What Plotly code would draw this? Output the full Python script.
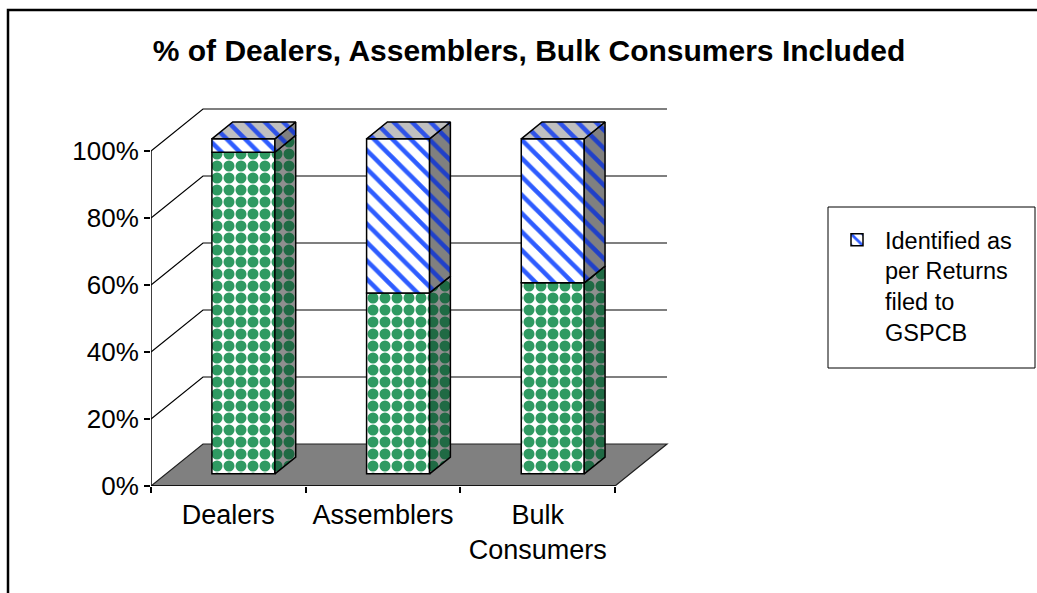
import plotly.graph_objects as go

# ---------------- data ----------------
categories = ["Dealers", "Assemblers", "Bulk<br>Consumers"]
included_pct = [96, 54, 57]          # green (lower) segment
identified_pct = [4, 46, 43]         # blue striped (upper) segment
y_tick_vals = [0, 20, 40, 60, 80, 100]
y_tick_text = ["0%", "20%", "40%", "60%", "80%", "100%"]
legend_name = "Identified as<br>per Returns<br>filed to<br>GSPCB"
title_text = "% of Dealers, Assemblers, Bulk Consumers Included"

# ---------------- geometry (layout) ----------------
W, H = 1037, 593
L_PX, R_PX = 151, 680        # plot area in pixels
T_PX, B_PX = 100, 486
PX_PER_CAT = 154.67
PX_PER_PCT = 3.35
XR = (R_PX - L_PX) / PX_PER_CAT
YR = (B_PX - T_PX) / PX_PER_PCT
DX = 52 / PX_PER_CAT         # depth offset in x units
DY = 42 / PX_PER_PCT         # depth offset in y units
F0, F1 = 0.29, 0.69          # bar depth (front / back fraction)
BW = 63 / PX_PER_CAT
N = len(categories)


def pxx(p):
    return (p - L_PX) / (R_PX - L_PX)


def pxy(p):
    return (B_PX - p) / (B_PX - T_PX)


FONT = "Liberation Sans, Arial, sans-serif"
GREEN_FRONT = dict(shape=".", bgcolor="#ffffff", fgcolor="#2f9a62", fgopacity=1, size=12, solidity=0.66)
GREEN_SIDE = dict(shape=".", bgcolor="#8f8f8f", fgcolor="#1f6a44", fgopacity=1, size=12, solidity=0.66)
BLUE_FRONT = dict(shape="\\", bgcolor="#ffffff", fgcolor="#2e5cff", fgopacity=1, size=13, solidity=0.35)
BLUE_SIDE = dict(shape="\\", bgcolor="#808080", fgcolor="#2040c8", fgopacity=1, size=13, solidity=0.35)
BLUE_TOP = dict(shape="\\", bgcolor="#c0c0c0", fgcolor="#2e52e8", fgopacity=1, size=13, solidity=0.35)

fig = go.Figure()

xs = [i + 0.5 + F0 * DX for i in range(N)]
base0 = F0 * DY
ddx = (F1 - F0) * DX
ddy = (F1 - F0) * DY

# front faces (bars)
fig.add_trace(go.Bar(
    x=xs, y=included_pct, base=[base0] * N, width=BW,
    marker=dict(color="#2f9a62", pattern=GREEN_FRONT, line=dict(color="black", width=1.5)),
    name="Included", showlegend=False, hoverinfo="skip"))
fig.add_trace(go.Bar(
    x=xs, y=identified_pct, base=[base0 + g for g in included_pct], width=BW,
    marker=dict(color="#ffffff", pattern=BLUE_FRONT, line=dict(color="black", width=1.5)),
    name=legend_name, showlegend=True, hoverinfo="skip"))


def poly(xp, yp, pattern, bg):
    fig.add_trace(go.Scatter(
        x=xp + [xp[0]], y=yp + [yp[0]], mode="lines", fill="toself",
        fillcolor=bg, fillpattern=pattern,
        line=dict(color="black", width=1.5), showlegend=False, hoverinfo="skip"))


for i in range(N):
    xr = xs[i] + BW / 2
    xl = xs[i] - BW / 2
    g = included_pct[i]
    b = identified_pct[i]
    # side of green segment
    y0, y1 = base0, base0 + g
    poly([xr, xr + ddx, xr + ddx, xr], [y0, y0 + ddy, y1 + ddy, y1], GREEN_SIDE, "#8f8f8f")
    # side of blue segment
    y0, y1 = base0 + g, base0 + g + b
    poly([xr, xr + ddx, xr + ddx, xr], [y0, y0 + ddy, y1 + ddy, y1], BLUE_SIDE, "#808080")
    # top face
    t = base0 + g + b
    poly([xl, xr, xr + ddx, xl + ddx], [t, t, t + ddy, t + ddy], BLUE_TOP, "#c0c0c0")

# ---------------- walls / floor (axis decorations) ----------------
shapes = []
for v in y_tick_vals[1:]:
    shapes.append(dict(type="path", xref="x", yref="y", layer="below",
                       path=f"M0,{v} L{DX},{v + DY} L{N + DX},{v + DY}",
                       line=dict(color="black", width=1.2)))
shapes.append(dict(type="path", xref="x", yref="y", layer="below",
                   path=f"M0,0 L{N},0 L{N + DX},{DY} L{DX},{DY} Z",
                   fillcolor="#808080", line=dict(color="#202020", width=1.2)))
# front axis lines
shapes.append(dict(type="line", xref="x", yref="y", layer="below",
                   x0=0, y0=0, x1=0, y1=100, line=dict(color="black", width=1.5)))
shapes.append(dict(type="line", xref="x", yref="y", layer="below",
                   x0=0, y0=0, x1=N, y1=0, line=dict(color="black", width=1.5)))
# chart frame (top and left edges)
shapes.append(dict(type="path", xref="paper", yref="paper", layer="above",
                   path=f"M{pxx(8)},{pxy(600)} L{pxx(8)},{pxy(10)} L{pxx(1045)},{pxy(10)}",
                   line=dict(color="black", width=2.5)))
# legend box
shapes.append(dict(type="rect", xref="paper", yref="paper", layer="above",
                   x0=pxx(828), x1=pxx(1035), y0=pxy(368), y1=pxy(207),
                   line=dict(color="black", width=1)))

fig.update_layout(
    width=W, height=H,
    margin=dict(l=L_PX, r=W - R_PX, t=T_PX, b=H - B_PX, autoexpand=False),
    paper_bgcolor="white", plot_bgcolor="rgba(0,0,0,0)",
    barmode="overlay",
    font=dict(family=FONT, color="black"),
    title=dict(text=f"<b>{title_text}</b>", x=529 / W, xanchor="center",
               y=1 - 50 / H, yanchor="middle", yref="container",
               font=dict(size=30, family=FONT, color="black")),
    shapes=shapes,
    legend=dict(x=pxx(829), y=pxy(218), xanchor="left", yanchor="top",
                borderwidth=0, bgcolor="rgba(0,0,0,0)",
                font=dict(size=23.5, family=FONT, color="black"),
                itemwidth=46, valign="top", itemclick=False),
    xaxis=dict(range=[0, XR], tickmode="array", tickvals=[i + 0.5 for i in range(N)],
               ticktext=categories, ticks="", showgrid=False, zeroline=False, showline=False,
               tickfont=dict(size=27, family=FONT, color="black"), ticklabelstandoff=10,
               minor=dict(tickmode="array", tickvals=list(range(N + 1)), ticks="outside",
                          ticklen=6, tickcolor="black", tickwidth=1.5, showgrid=False),
               fixedrange=True),
    yaxis=dict(range=[0, YR], tickmode="array", tickvals=y_tick_vals, ticktext=y_tick_text,
               ticks="outside", ticklen=6, tickcolor="black", tickwidth=1.5,
               showgrid=False, zeroline=False, showline=False,
               tickfont=dict(size=26, family=FONT, color="black"), fixedrange=True),
)

fig.write_html("out.html")
